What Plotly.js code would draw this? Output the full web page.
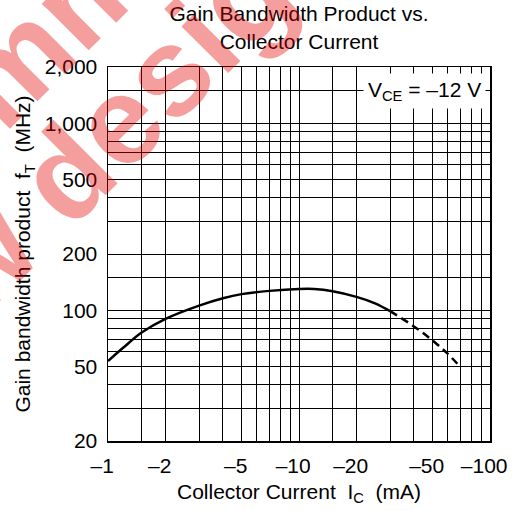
<!DOCTYPE html>
<html>
<head>
<meta charset="utf-8">
<script src="https://cdn.plot.ly/plotly-3.0.1.min.js"></script>
<style>html,body{margin:0;padding:0;background:#fff;}#chart{width:521px;height:511px;}</style>
</head>
<body>
<div id="chart"></div>
<script>
// Collector current magnitude (mA), plotted as -IC
var currentSolid = [1, 1.2, 1.5, 2, 3, 4, 5, 7, 10, 12, 15, 20, 25, 30];
var gainSolid = [53.5, 63, 76, 90, 106, 116, 122, 127, 130, 130, 126.5, 118, 109, 99];
var currentDashed = [30, 40, 50, 60, 70];
var gainDashed = [99, 82, 69, 58.6, 49.7];

var xGrid = [1, 1.5, 2, 3, 4, 5, 6, 7, 8, 9, 10, 15, 20, 30, 40, 50, 60, 70, 80, 90, 100];
var xLabeled = [1, 2, 5, 10, 20, 50, 100];
var yGrid = [20, 30, 40, 50, 60, 70, 80, 90, 100, 150, 200, 300, 400, 500, 600, 700, 800, 900, 1000, 1500, 2000];
var yLabeled = [20, 50, 100, 200, 500, 1000, 2000];
var yLabelText = ['20', '50', '100', '200', '500', '1,000', '2,000'];

var FONT = 'Arial, "Liberation Sans", sans-serif';
var hid = "<span style='color:rgba(0,0,0,0)'>–</span>";
var xText = xGrid.map(function (v) {
  return xLabeled.indexOf(v) >= 0 ? '–' + v + hid : '';
});
var yText = yGrid.map(function (v) {
  var i = yLabeled.indexOf(v);
  return i >= 0 ? yLabelText[i] : '';
});

var traces = [
  {x: currentSolid, y: gainSolid, mode: 'lines', line: {color: '#000', width: 2.5, shape: 'spline', smoothing: 1}, hoverinfo: 'skip'},
  {x: currentDashed, y: gainDashed, mode: 'lines', line: {color: '#000', width: 2.5, shape: 'spline', dash: '8px,5px'}, hoverinfo: 'skip'}
];

var wm = 'rgba(230,0,0,0.38)';
var layout = {
  width: 521, height: 511,
  margin: {l: 108, r: 31, t: 67, b: 70},
  paper_bgcolor: '#fff', plot_bgcolor: '#fff',
  showlegend: false,
  font: {family: FONT, size: 21, color: '#000'},
  title: {
    text: 'Gain Bandwidth Product vs.<br>Collector Current',
    font: {family: FONT, size: 21, color: '#000'},
    xref: 'paper', x: 0.5, xanchor: 'center',
    yref: 'container', y: 0.958, yanchor: 'top'
  },
  xaxis: {
    type: 'log', range: [0, 2],
    tickmode: 'array', tickvals: xGrid, ticktext: xText,
    ticks: '', showgrid: true, gridcolor: '#000', gridwidth: 1,
    showline: true, linecolor: '#000', linewidth: 1.5, mirror: true,
    zeroline: false, ticklabelstandoff: 5,
    tickfont: {family: FONT, size: 21, color: '#000'},
    title: {text: 'Collector Current\u00a0\u00a0I<sub>C</sub>\u00a0\u00a0(mA)', font: {family: FONT, size: 21, color: '#000'}, standoff: 8}
  },
  yaxis: {
    type: 'log', range: [Math.log10(20), Math.log10(2000)],
    tickmode: 'array', tickvals: yGrid, ticktext: yText,
    ticks: '', showgrid: true, gridcolor: '#000', gridwidth: 1,
    showline: true, linecolor: '#000', linewidth: 1.5, mirror: true,
    zeroline: false, ticklabelstandoff: 5,
    tickfont: {family: FONT, size: 21, color: '#000'},
    title: {text: 'Gain bandwidth product\u00a0\u00a0f<sub>T</sub>\u00a0\u00a0(MHz)', font: {family: FONT, size: 21, color: '#000'}, standoff: 8}
  },
  annotations: [
    {xref: 'paper', yref: 'paper', x: 0.99, y: 0.935, xanchor: 'right', yanchor: 'middle',
     text: 'V<sub>CE</sub> = –12 V', showarrow: false, bgcolor: '#fff', borderpad: 4,
     font: {family: FONT, size: 21, color: '#000'}},
    {xref: 'paper', yref: 'paper', x: -0.275, y: 0.979, xanchor: 'center', yanchor: 'middle',
     text: '<b>Not recommended</b>', showarrow: false, textangle: -45,
     font: {family: FONT, size: 125, color: wm}},
    {xref: 'paper', yref: 'paper', x: -0.251, y: 0.570, xanchor: 'center', yanchor: 'middle',
     text: '<b>for new design</b>', showarrow: false, textangle: -45,
     font: {family: FONT, size: 125, color: wm}}
  ]
};

Plotly.newPlot('chart', traces, layout, {staticPlot: true, displayModeBar: false});
</script>
</body>
</html>
